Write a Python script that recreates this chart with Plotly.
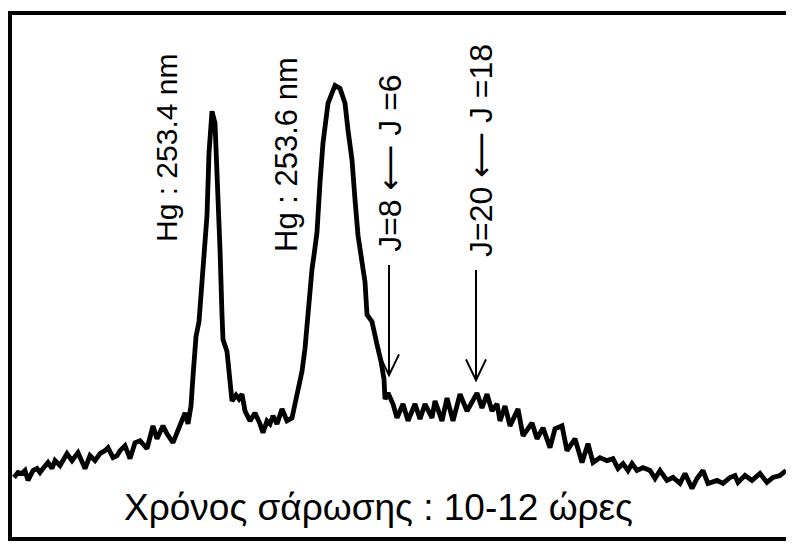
import plotly.graph_objects as go

# Scan position (arbitrary units) and detector signal (arbitrary units)
scan_pos = [14, 18, 22, 25, 28, 33, 37, 40, 43, 48, 52, 55, 60, 67, 72, 78, 85, 90, 95, 100,
            105, 108, 113, 117, 120, 125, 130, 135, 140, 147, 153, 157, 163, 167, 173, 180, 185, 188, 191, 193,
            196, 199, 203, 207, 209, 212, 215, 217, 220, 222, 223, 227, 230, 232, 236, 239, 242, 245, 250, 255,
            260, 263, 267, 270, 273, 277, 282, 287, 292, 295, 298, 302, 305, 308, 312, 314, 317, 320, 323, 328,
            335, 340, 345, 348, 352, 355, 358, 362, 365, 367, 372, 377, 381, 384, 385, 388, 393, 397, 403, 408,
            415, 420, 425, 432, 435, 442, 447, 453, 460, 467, 477, 482, 487, 492, 497, 500, 505, 510, 518, 523,
            532, 537, 543, 550, 555, 562, 567, 575, 582, 588, 593, 600, 607, 613, 618, 623, 628, 632, 637, 643,
            650, 655, 660, 667, 673, 680, 685, 692, 697, 703, 708, 717, 723, 730, 735, 738, 745, 752, 760, 767,
            773, 780, 786]
signal = [60, 65, 64, 67, 57, 67, 69, 65, 69, 75, 69, 77, 72, 84, 77, 85, 69, 82, 77, 84,
          87, 90, 80, 82, 87, 92, 79, 95, 97, 89, 112, 99, 112, 104, 95, 114, 125, 114, 132, 162,
          202, 217, 270, 324, 387, 429, 417, 374, 290, 224, 199, 187, 157, 137, 143, 139, 144, 127, 117, 125,
          114, 105, 117, 114, 122, 114, 129, 117, 120, 135, 147, 167, 190, 230, 270, 284, 307, 357, 397, 437,
          455, 452, 437, 410, 380, 340, 304, 277, 257, 224, 217, 194, 177, 159, 139, 145, 134, 120, 134, 117,
          134, 119, 134, 120, 137, 117, 140, 117, 144, 127, 145, 130, 144, 127, 134, 117, 132, 112, 129, 102,
          115, 99, 110, 90, 109, 112, 87, 99, 75, 94, 75, 80, 77, 79, 69, 74, 67, 74, 67, 70,
          67, 59, 67, 57, 60, 54, 64, 49, 59, 67, 54, 57, 54, 60, 62, 55, 62, 57, 64, 55,
          60, 62, 67]

peak_labels = ["Hg : 253.4 nm", "Hg : 253.6 nm"]
j_labels = ["J=8", "J =6", "J=20", "J =18"]
scan_time = "Χρόνος σάρωσης : 10-12 ώρες"

FONT = "Liberation Sans, Arial, sans-serif"
ARROW = "<span style='font-family:DejaVu Sans'>\u27f5</span>"

fig = go.Figure()
fig.add_trace(go.Scatter(
    x=scan_pos, y=signal, mode="lines",
    line=dict(color="black", width=4.8, shape="linear"),
    hoverinfo="skip", showlegend=False,
))

annotations = []
for txt, xp, yc, fs in zip(peak_labels, [167, 287], [392, 385], [30, 31]):
    annotations.append(dict(x=xp, y=yc, text=txt, textangle=-90, showarrow=False,
                            font=dict(family=FONT, size=fs, color="black"),
                            xanchor="center", yanchor="middle"))
for (lo, hi), xp, yc in zip([(j_labels[0], j_labels[1]), (j_labels[2], j_labels[3])],
                            [390, 481], [377, 389]):
    annotations.append(dict(x=xp, y=yc, text=f"{lo} {ARROW} {hi}", textangle=-90, showarrow=False,
                            font=dict(family=FONT, size=32, color="black"),
                            xanchor="center", yanchor="middle"))
annotations.append(dict(x=378, y=30, text=scan_time, showarrow=False,
                        font=dict(family=FONT, size=37, color="black"),
                        xanchor="center", yanchor="middle"))

shapes = []
for xa, top, tip in zip([389, 476], [274, 269], [163, 158]):
    shapes.append(dict(type="path",
                       path=f"M {xa},{top} L {xa},{tip} M {xa-10},{tip+21} L {xa},{tip} L {xa+10},{tip+21}",
                       line=dict(color="black", width=2), xref="x", yref="y"))

# page body has an 8px default margin; compensate so the frame sits where the original does
fig.update_layout(
    width=786, height=539,
    margin=dict(l=4, r=7, t=3, b=10),
    paper_bgcolor="white", plot_bgcolor="white",
    xaxis=dict(range=[12, 787], showgrid=False, zeroline=False, showticklabels=False, ticks="",
               showline=True, linecolor="black", linewidth=4, mirror=True),
    yaxis=dict(range=[0, 526], showgrid=False, zeroline=False, showticklabels=False, ticks="",
               showline=True, linecolor="black", linewidth=4, mirror=True),
    annotations=annotations, shapes=shapes,
)

fig.write_html("out.html")
